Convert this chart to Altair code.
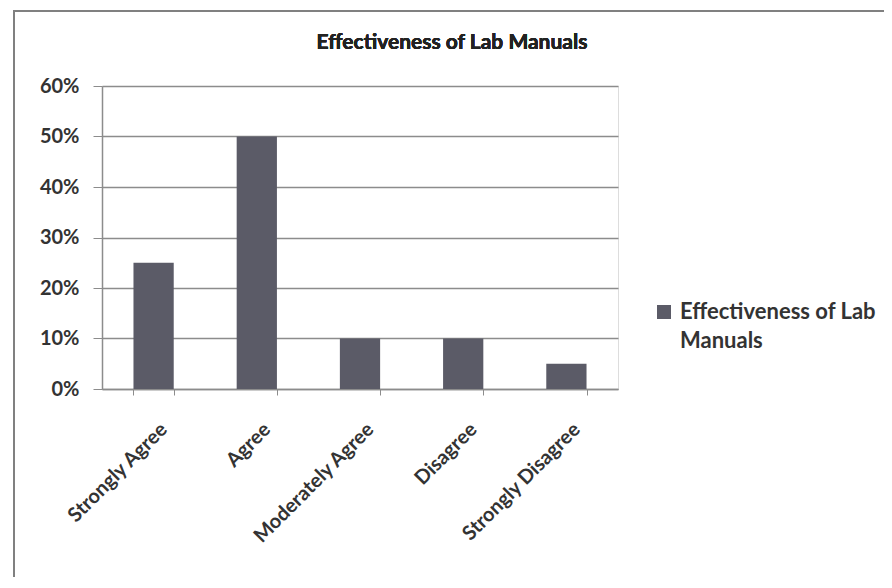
import altair as alt
import pandas as pd

categories = ["Strongly Agree", "Agree", "Moderately Agree", "Disagree", "Strongly Disagree"]
values = [0.25, 0.50, 0.10, 0.10, 0.05]
series_name = "Effectiveness of Lab Manuals"
legend_lines = ["Effectiveness of Lab", "Manuals"]
y_ticks = [0, 0.1, 0.2, 0.3, 0.4, 0.5, 0.6]

df = pd.DataFrame({"category": categories, "value": values, "series": series_name})

FONT = "Lato"
GRID = "#8c8c8c"
BAR = "#5b5b67"
TXT = "#333333"

bars = alt.Chart(df).mark_bar(color=BAR).encode(
    x=alt.X("category:N", sort=categories, title=None,
            scale=alt.Scale(paddingInner=0.61, paddingOuter=0.305),
            axis=alt.Axis(labelAngle=-45, labelFontSize=20, labelFont=FONT, labelFontWeight="bold",
                          labelColor=TXT, labelPadding=24, labelOffset=3,
                          tickBand="extent", tickSize=6,
                          tickColor=GRID, domainColor=GRID, domainWidth=1.5, grid=False)),
    y=alt.Y("value:Q", title=None,
            scale=alt.Scale(domain=[0, 0.6], nice=False),
            axis=alt.Axis(values=y_ticks, format=".0%", labelFontSize=20, labelFont=FONT,
                          labelFontWeight="bold", labelColor=TXT, labelPadding=14,
                          tickSize=9, tickColor=GRID, domainColor=GRID, domainWidth=1.5,
                          grid=True, gridColor=GRID, gridWidth=1.5)),
    color=alt.Color("series:N", title=None,
                    scale=alt.Scale(range=[BAR]),
                    legend=alt.Legend(orient="none", legendX=551, legendY=215,
                                      symbolType="square", symbolSize=196, symbolStrokeWidth=0,
                                      labelFont=FONT, labelFontSize=22, labelColor=TXT,
                                      labelFontWeight="bold", labelLimit=400, labelOffset=5,
                                      labelExpr="['" + legend_lines[0] + "', '" + legend_lines[1] + "']")),
)

title = alt.Chart(df).mark_text(font=FONT, fontSize=21, fontWeight="bold", color="#222222",
                                align="center", baseline="middle").encode(
    x=alt.value(350), y=alt.value(-43), text=alt.value(series_name)
)

frame = alt.Chart(df).mark_rect(fill=None, stroke="#808080", strokeWidth=2).encode(
    x=alt.value(-88), x2=alt.value(900), y=alt.value(-75), y2=alt.value(600)
)

chart = alt.layer(frame, bars, title).properties(
    width=516, height=303,
    padding={"left": 94, "top": 78, "right": 266, "bottom": 188},
    autosize=alt.AutoSizeParams(type="none"),
).configure_view(stroke=None).configure(
    background="white",
    style={"guide-label": {"lineHeight": 29}},
)

chart.save("out.html", embed_options={"renderer": "svg", "actions": False})
